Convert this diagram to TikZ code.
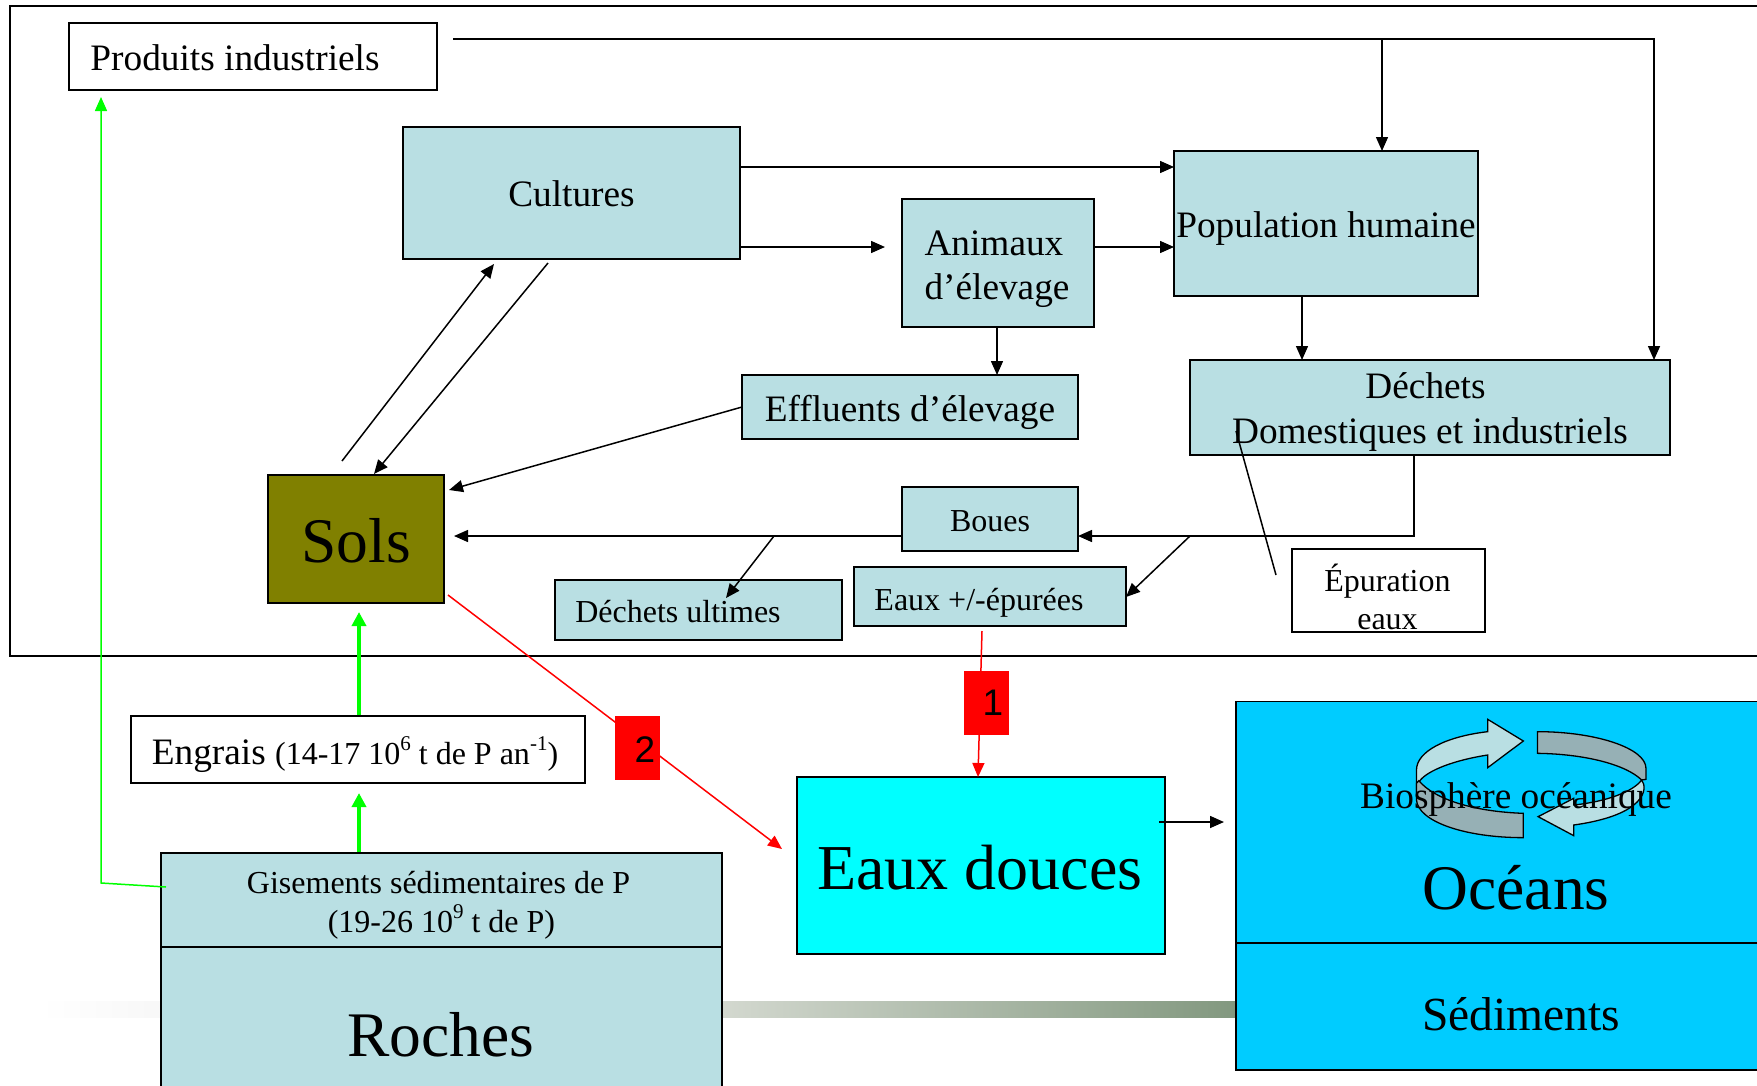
\documentclass[tikz,border=0pt]{standalone}
\usepackage{fontspec}
\setmainfont{Liberation Serif}
\newfontfamily\arialf{Liberation Sans}
\usetikzlibrary{arrows.meta}
\definecolor{boxblue}{HTML}{B9DFE3}
\definecolor{boxgray}{HTML}{96B0B5}
\definecolor{oceanblue}{HTML}{00CCFF}
\definecolor{freshcyan}{HTML}{00FFFF}
\definecolor{oliveb}{HTML}{808000}
\definecolor{bandend}{HTML}{82987F}
\definecolor{bandstart}{HTML}{D3D8CF}
\definecolor{pureg}{HTML}{00FF00}
\definecolor{purer}{HTML}{FF0000}
\newcommand{\fsz}[1]{\fontsize{#1}{#1}\selectfont}
% move text: #1 = twice the horizontal shift, #2 = downward shift
\newcommand{\mv}[3]{\raisebox{-#2pt}[\height][\depth]{\hspace*{#1pt}#3}}
\newcommand{\supx}[1]{\raisebox{0.42em}[0pt][0pt]{\fsz{21}#1}}
\tikzset{
  basebox/.style={draw=black,line width=1.6pt,inner sep=0pt,outer sep=0pt,align=center,text=black},
  bluebox/.style={basebox,fill=boxblue},
  whitebox/.style={basebox,fill=white},
  txt37/.style={font=\fsz{37.3}},
  txt32/.style={font=\fsz{32}},
  txt63/.style={font=\fsz{63.5}},
  arr/.style={draw=black,line width=1.5pt,-{Triangle[length=14pt,width=12pt]}},
  plainline/.style={draw=black,line width=1.5pt},
  redarr/.style={draw=purer,line width=1.5pt,-{Triangle[length=14pt,width=12pt]}},
  greenthick/.style={draw=pureg,line width=4.5pt,-{Triangle[length=14pt,width=14pt]}},
  greenthin/.style={draw=pureg,line width=1.5pt,-{Triangle[length=14pt,width=12pt]}},
  redtag/.style={fill=purer,inner sep=0pt,outer sep=0pt,font=\arialf\fsz{37},minimum width=45pt,minimum height=64pt},
  cyc/.style={draw=black,line width=1.3pt},
}
\begin{document}
\begin{tikzpicture}[x=1pt,y=-1pt]
\useasboundingbox (0,0) rectangle (1757,1085);
\fill[white] (0,0) rectangle (1757,1085);
% gradient band
\shade[left color=white,right color=white!97!black] (40,1001) rectangle (162,1017);
\shade[left color=bandstart,right color=bandend] (722,1001) rectangle (1236,1017);
% outer frame
\draw[black,line width=1.6pt] (1770,6) -- (10,6) -- (10,656) -- (1770,656);

% boxes
\node[whitebox,txt37,minimum width=368pt,minimum height=67pt] (produits) at (253,56.5) {\mv{-36}{1}{Produits industriels}};
\node[bluebox,txt37,minimum width=337pt,minimum height=132pt] (cultures) at (571.5,193) {\mv{0}{1}{Cultures}};
\node[bluebox,txt37,minimum width=192pt,minimum height=128pt] (animaux) at (998,263) {\mv{-2}{7}{\begin{tabular}{@{}l@{}}Animaux\\[6pt]d’élevage\end{tabular}}};
\node[bluebox,txt37,minimum width=304pt,minimum height=145pt] (population) at (1326,223.5) {\mv{0}{5.5}{Population humaine}};
\node[bluebox,txt37,minimum width=336pt,minimum height=64pt] (effluents) at (910,407) {\mv{0}{5.5}{Effluents d’élevage}};
\node[bluebox,txt37,minimum width=480pt,minimum height=95pt] (dechets) at (1430,407.5) {\mv{-9}{6.2}{\begin{tabular}{@{}c@{}}Déchets\\[8pt]\hspace*{9pt}Domestiques et industriels\end{tabular}}};
\node[basebox,fill=oliveb,font=\fsz{63.5},minimum width=176pt,minimum height=128pt] (sols) at (356,539) {\mv{0}{2}{Sols}};
\node[bluebox,txt32,minimum width=176pt,minimum height=64pt] (boues) at (990,519) {\mv{0}{2}{Boues}};
\node[bluebox,txt32,minimum width=287pt,minimum height=60pt] (ultimes) at (698.5,610) {\mv{-41}{2}{Déchets ultimes}};
\node[bluebox,txt32,minimum width=272pt,minimum height=59pt] (eaux) at (990,596.5) {\mv{-22}{6.4}{Eaux +/-épurées}};
\node[whitebox,txt32,minimum width=193pt,minimum height=83pt] (epuration) at (1388.5,590.5) {\mv{-2}{11.3}{\begin{tabular}{@{}c@{}}Épuration\\[6pt]eaux\end{tabular}}};
\node[whitebox,txt37,minimum width=454pt,minimum height=67pt] (engrais) at (358,749.5) {\mv{-6}{6.6}{Engrais {\fsz{32}(14-17 10\supx{6} t de P an\supx{-1})}}};
\node[bluebox,txt32,minimum width=561pt,minimum height=94pt] (gisements) at (441.5,900) {\mv{0}{6.2}{\begin{tabular}{@{}c@{}}\hspace*{-6pt}Gisements sédimentaires de P\\[7pt](19-26 10\supx{9} t de P)\end{tabular}}};
\node[bluebox,txt63,minimum width=561pt,minimum height=176pt] (roches) at (441.5,1035) {};
\node[txt63,inner sep=0pt] (rochestxt) at (441,1035) {Roches};
\node[basebox,fill=freshcyan,font=\fsz{64},minimum width=368pt,minimum height=177pt] (douces) at (981,865.5) {};
\node[font=\fsz{64},inner sep=0pt] (doucestxt) at (980,868) {Eaux douces};
\node[basebox,fill=oceanblue,minimum width=560pt,minimum height=242pt] (oceans) at (1516,822.5) {};
\node[basebox,fill=oceanblue,minimum width=560pt,minimum height=127pt] (sediments) at (1516,1006.5) {};
\node[font=\fsz{47.5},inner sep=0pt] (sedimentstxt) at (1521,1014) {Sédiments};

% cycle arrows
\begin{scope}[shift={(1230,690)},x=0.336pt,y=-0.3333pt]
  \filldraw[cyc,fill=boxgray] (915,125) .. controls (1090,125) and (1238,175) .. (1238,235)
     -- (1238,268) -- (1225,270) .. controls (1180,225) and (1060,192) .. (915,190) -- cycle;
  \filldraw[cyc,fill=boxblue] (1225,270) .. controls (1245,295) and (1238,375) .. (1023,405)
     -- (1023,437) -- (917,380) -- (1023,325) -- (1023,345)
     .. controls (1120,335) and (1200,305) .. (1225,270) -- cycle;
  \filldraw[cyc,fill=boxblue] (873,153) -- (767,88) -- (767,125)
     .. controls (640,140) and (555,185) .. (555,240) -- (555,300) -- (565,272)
     .. controls (590,240) and (670,210) .. (767,195) -- (767,233) -- cycle;
  \filldraw[cyc,fill=boxgray] (873,370) .. controls (730,365) and (610,330) .. (562,272)
     -- (555,280) -- (555,330) .. controls (560,395) and (700,443) .. (873,443) -- cycle;
\end{scope}
\node[txt37,inner sep=0pt] (biosphere) at (1516,799) {Biosphère océanique};
\node[font=\fsz{63.5},inner sep=0pt] (oceanstxt) at (1516,888) {Océans};

% free ends
\coordinate (prodstart) at (453,39);
\coordinate (prodcorner) at (1654,39);
\coordinate (prodjoin) at (1382,39);
\coordinate (culfree) at (885,247);
\coordinate (solsin) at (449,490);
\coordinate (solsout) at (342,461);
\coordinate (culin) at (494,264);
\coordinate (culout) at (548,263);
\coordinate (solsinb) at (374,474);
\coordinate (solswest) at (454,536);
\coordinate (branchone) at (1190,536);
\coordinate (branchtwo) at (774,536);
\coordinate (eauxin) at (1126,597);
\coordinate (ultin) at (726,598);
\coordinate (epa) at (1276,575);
\coordinate (epb) at (1236,431);
\coordinate (redonestart) at (982,631);
\coordinate (redtwostart) at (448,595);
\coordinate (redtwoend) at (782,849);
\coordinate (oceanstart) at (1159,822);
\coordinate (oceanend) at (1224,822);
\coordinate (engraisup) at (359,715);
\coordinate (solsgreen) at (359,612);
\coordinate (gisup) at (359,852);
\coordinate (engraisgreen) at (359,793);
\coordinate (gisleft) at (166,887);
\coordinate (greencorner) at (101,883);
\coordinate (produitsgreen) at (101,97);

% connectors
\draw[arr] (prodstart) -- (prodcorner) -- ([xshift=224pt]dechets.north);
\draw[arr] (prodjoin) -- ([xshift=56pt]population.north);
\draw[arr] ([yshift=26pt]cultures.east) -- ([yshift=56.5pt]population.west);
\draw[arr] ([yshift=-54pt]cultures.east) -- (culfree);
\draw[arr] ([yshift=16pt]animaux.east) -- ([yshift=-23.5pt]population.west);
\draw[arr] ([xshift=-24pt]population.south) -- ([xshift=-128pt]dechets.north);
\draw[arr] ([xshift=-1pt]animaux.south) -- ([xshift=87pt]effluents.north);
\draw[arr] (effluents.west) -- (solsin);
\draw[arr] (solsout) -- (culin);
\draw[arr] (culout) -- (solsinb);
\draw[arr] ([xshift=-16pt]dechets.south) |- ([yshift=-17pt]boues.east);
\draw[arr] ([yshift=-17pt]boues.west) -- (solswest);
\draw[arr] (branchone) -- (eauxin);
\draw[arr] (branchtwo) -- (ultin);
\draw[plainline] (epa) -- (epb);
\draw[redarr] (redonestart) -- ([xshift=-3pt]douces.north);
\draw[redarr] (redtwostart) -- (redtwoend);
\draw[arr] (oceanstart) -- (oceanend);
\draw[greenthick] (engraisup) -- (solsgreen);
\draw[greenthick] (gisup) -- (engraisgreen);
\draw[greenthin] (gisleft) -- (greencorner) -- (produitsgreen);

% red tags
\node[redtag] (tagone) at (986.5,703) {\hspace*{13pt}1};
\node[redtag] (tagtwo) at (637.5,748) {\raisebox{-2pt}[\height][\depth]{\hspace*{15pt}2}};
\end{tikzpicture}
\end{document}
